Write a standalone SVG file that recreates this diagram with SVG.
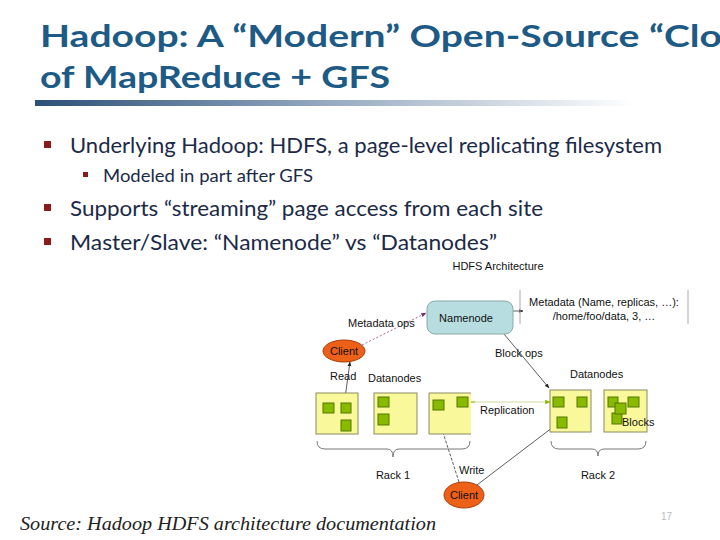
<svg xmlns="http://www.w3.org/2000/svg" width="720" height="540" viewBox="0 0 720 540">
<defs>
<linearGradient id="bar" x1="0" y1="0" x2="1" y2="0">
<stop offset="0" stop-color="#2c5078"/>
<stop offset="0.45" stop-color="#8ea3bb"/>
<stop offset="1" stop-color="#ffffff"/>
</linearGradient>
<marker id="ah" viewBox="0 0 10 10" refX="9" refY="5" markerWidth="6" markerHeight="6" orient="auto">
<path d="M0,1 L10,5 L0,9 z" fill="#222"/>
</marker>
<marker id="ahp" viewBox="0 0 10 10" refX="9" refY="5" markerWidth="6" markerHeight="6" orient="auto">
<path d="M0,1 L10,5 L0,9 z" fill="#7a3070"/>
</marker>
<marker id="ahg" viewBox="0 0 10 10" refX="9" refY="5" markerWidth="6" markerHeight="6" orient="auto">
<path d="M0,1 L10,5 L0,9 z" fill="#88bb00"/>
</marker>
<style>
.title{font-family:"Lato","Open Sans",sans-serif;font-weight:bold;font-size:30px;fill:#1d5b86}
.b1{font-family:"Lato","Open Sans",sans-serif;font-size:22px;fill:#1c2a48}
.b2{font-family:"Lato","Open Sans",sans-serif;font-size:17px;fill:#1c2a48}
.sq{fill:#8b1a1a}
.lbl{font-family:"Liberation Sans",Arial,sans-serif;font-size:11px;fill:#111}
.dn{fill:#f9f99c;stroke:#8a8a60;stroke-width:1}
.blk{fill:#88bb00;stroke:#557700;stroke-width:1}
.cl{fill:#ec6018;stroke:#a8400c;stroke-width:1}
.ln{fill:none;stroke:#333;stroke-width:0.8}
.br{fill:none;stroke:#777;stroke-width:1}
</style>
</defs>
<rect width="720" height="540" fill="#ffffff"/>

<g id="title">
<text class="title" x="40" y="47" textLength="682" lengthAdjust="spacingAndGlyphs">Hadoop: A “Modern” Open-Source “Clo</text>
<text class="title" x="40" y="88" textLength="350" lengthAdjust="spacingAndGlyphs">of MapReduce + GFS</text>
<rect x="35" y="100" width="600" height="6" fill="url(#bar)"/>
</g>

<g id="bullets">
<rect class="sq" x="44" y="141" width="7" height="7"/>
<text class="b1" x="70" y="153" textLength="592" lengthAdjust="spacingAndGlyphs">Underlying Hadoop: HDFS, a page-level replicating filesystem</text>
<rect class="sq" x="83" y="172" width="5" height="5"/>
<text class="b2" x="103" y="182" textLength="210" lengthAdjust="spacingAndGlyphs">Modeled in part after GFS</text>
<rect class="sq" x="44" y="204" width="7" height="7"/>
<text class="b1" x="70" y="216" textLength="473" lengthAdjust="spacingAndGlyphs">Supports “streaming” page access from each site</text>
<rect class="sq" x="44" y="238" width="7" height="7"/>
<text class="b1" x="70" y="250" textLength="427" lengthAdjust="spacingAndGlyphs">Master/Slave:  “Namenode” vs “Datanodes”</text>
</g>

<text class="lbl" x="498" y="270" text-anchor="middle" fill="#333">HDFS Architecture</text>

<g id="connectors">
<line class="ln" x1="513" y1="311" x2="523" y2="311" marker-end="url(#ah)"/>
<line x1="362" y1="345" x2="426" y2="313" stroke="#9a5a90" stroke-width="0.9" stroke-dasharray="2,2" marker-end="url(#ahp)"/>
<line class="ln" x1="345" y1="398" x2="350" y2="362" marker-end="url(#ah)"/>
<line class="ln" x1="504" y1="334" x2="549" y2="388" marker-end="url(#ah)"/>
<line x1="471" y1="402" x2="550" y2="402" stroke="#c8d890" stroke-width="0.9" marker-end="url(#ahg)"/>
<line x1="471" y1="402" x2="475" y2="402" stroke="#88bb00" stroke-width="1"/>
<line class="ln" x1="459" y1="482" x2="436" y2="411" stroke-dasharray="3,1.5" marker-end="url(#ah)"/>
<line class="ln" x1="477" y1="485" x2="557" y2="424" marker-end="url(#ah)"/>
</g>

<g id="namenode">
<rect x="427" y="301" width="86" height="33" rx="8" ry="8" fill="#b7dde0" stroke="#8aa" stroke-width="1"/>
<text class="lbl" x="466" y="322" text-anchor="middle" font-size="12">Namenode</text>
</g>

<g id="metadata">
<line x1="520" y1="290" x2="520" y2="324" stroke="#aaa" stroke-width="1"/>
<line x1="688" y1="290" x2="688" y2="324" stroke="#aaa" stroke-width="1"/>
<text class="lbl" x="604" y="306" text-anchor="middle">Metadata (Name, replicas, …):</text>
<text class="lbl" x="604" y="320" text-anchor="middle">/home/foo/data, 3, …</text>
</g>

<g id="client-read">
<ellipse class="cl" cx="344" cy="351" rx="21" ry="11"/>
<text class="lbl" x="344" y="355" text-anchor="middle" fill="#4a1400">Client</text>
</g>

<g id="labels">
<text class="lbl" x="348" y="327">Metadata ops</text>
<text class="lbl" x="330" y="380">Read</text>
<text class="lbl" x="368" y="382">Datanodes</text>
<text class="lbl" x="495" y="357">Block ops</text>
<text class="lbl" x="570" y="378">Datanodes</text>
<text class="lbl" x="480" y="414">Replication</text>
<text class="lbl" x="459" y="474">Write</text>
<text class="lbl" x="393" y="479" text-anchor="middle">Rack 1</text>
<text class="lbl" x="598" y="479" text-anchor="middle">Rack 2</text>
</g>

<g id="datanode1">
<rect class="dn" x="316" y="393" width="42" height="41"/>
<rect class="blk" x="323" y="403" width="11" height="10"/>
<rect class="blk" x="341" y="403" width="10" height="10"/>
<rect class="blk" x="341" y="420" width="10" height="11"/>
</g>
<g id="datanode2">
<rect class="dn" x="374" y="393" width="43" height="41"/>
<rect class="blk" x="378" y="397" width="11" height="10"/>
<rect class="blk" x="378" y="414" width="11" height="11"/>
</g>
<g id="datanode3">
<path class="dn" d="M471,393 L429,393 L429,434 L471,434"/>
<rect class="blk" x="433" y="400" width="11" height="10"/>
<rect class="blk" x="457" y="397" width="11" height="10"/>
</g>
<g id="datanode4">
<rect class="dn" x="550" y="390" width="41" height="42"/>
<rect class="blk" x="553" y="397" width="11" height="10"/>
<rect class="blk" x="577" y="397" width="10" height="10"/>
<rect class="blk" x="557" y="417" width="10" height="11"/>
</g>
<g id="datanode5">
<rect class="dn" x="604" y="390" width="43" height="42"/>
<rect class="blk" x="608" y="397" width="10" height="10"/>
<rect class="blk" x="628" y="397" width="11" height="10"/>
<rect class="blk" x="612" y="413" width="10" height="11"/>
<rect class="blk" x="615" y="403" width="11" height="11"/>
<text class="lbl" x="622" y="426" font-size="12">Blocks</text>
</g>

<g id="rack1">
<path class="br" d="M317,441 Q317,449 325,449 L387,449 Q393,449 393,457 Q393,449 399,449 L462,449 Q470,449 470,441"/>
</g>
<g id="rack2">
<path class="br" d="M551,441 Q551,449 559,449 L592,449 Q598,449 598,456 Q598,449 604,449 L638,449 Q646,449 646,441"/>
</g>

<g id="client-write">
<ellipse class="cl" cx="464" cy="495" rx="20" ry="13"/>
<text class="lbl" x="464" y="499" text-anchor="middle" fill="#4a1400">Client</text>
</g>

<text x="20" y="530" font-family="'Liberation Serif',serif" font-style="italic" font-size="18" fill="#222" textLength="416" lengthAdjust="spacingAndGlyphs">Source: Hadoop HDFS architecture documentation</text>
<text x="661" y="520" font-family="'Liberation Sans',sans-serif" font-size="10" fill="#bbb">17</text>
</svg>
